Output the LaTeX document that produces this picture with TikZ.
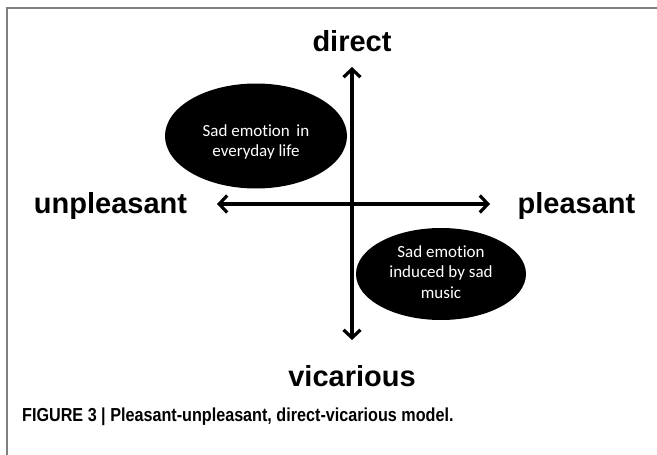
\documentclass[tikz,border=0pt]{standalone}
\usepackage{fontspec}
\setmainfont{Liberation Sans}
\newfontfamily\calib[Ligatures={NoCommon}]{Carlito}
\usetikzlibrary{arrows.meta,shapes.geometric}
\begin{document}
\begin{tikzpicture}[x=1pt,y=-1pt,
  axislabel/.style={font=\fontsize{29}{32}\selectfont\bfseries, anchor=base, inner sep=0pt},
  blob/.style={ellipse, fill=black, inner sep=0pt},
  blobtext/.style={text=white, inner sep=0pt, align=center,
    font=\calib\fontsize{17}{20.5}\selectfont},
  axis/.style={line width=3.2pt, {Straight Barb[length=8pt,width=17pt]}-{Straight Barb[length=8pt,width=17pt]}},
  frame/.style={draw=black!50, line width=2pt}]
\useasboundingbox (0,0) rectangle (657,455);
\draw[frame] (7,455) -- (7,8) -- (657,8);
% ellipses
\node[blob, minimum width=182pt, minimum height=105pt] (e1) at (256,136) {};
\node[blobtext] (t1) at (256,142) {Sad emotion\, in\\everyday life};
\node[blob, minimum width=170pt, minimum height=92pt] (e2) at (441,274) {};
\node[blobtext] (t2) at (441,272) {Sad emotion\\induced by sad\\music};
% axes
\coordinate (vt) at (352,67);
\coordinate (vb) at (352,340);
\coordinate (hl) at (217,204);
\coordinate (hr) at (490,204);
\draw[axis] (vb) -- (vt);
\draw[axis] (hl) -- (hr);
% labels
\node[axislabel] (dir) at (352,51) {direct};
\node[axislabel] (vic) at (352,386) {vicarious};
\node[axislabel] (unp) at (110.5,213) {unpleasant};
\node[axislabel] (ple) at (576.5,213) {pleasant};
\node[anchor=base west, inner sep=0pt, font=\fontsize{18.8}{22}\selectfont\bfseries] (cap) at (22,421)
  {\scalebox{0.86}[1]{FIGURE 3 | Pleasant-unpleasant, direct-vicarious model.}};
\end{tikzpicture}
\end{document}
